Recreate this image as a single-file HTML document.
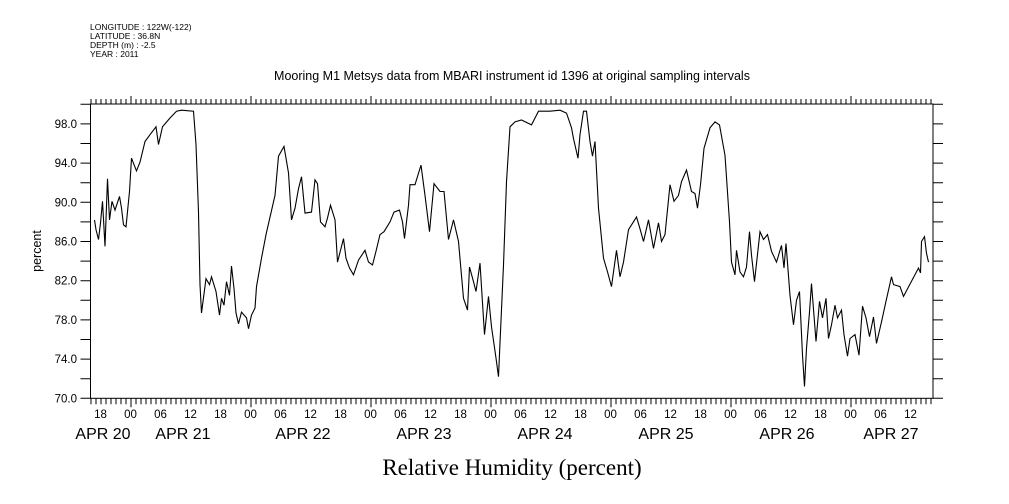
<!DOCTYPE html>
<html><head><meta charset="utf-8"><style>
body{margin:0;background:#fff;}
svg{display:block;font-family:"Liberation Sans",sans-serif;}
</style></head><body>
<svg id="chart" width="1009" height="504" viewBox="0 0 1009 504" xmlns="http://www.w3.org/2000/svg">
<g font-size="8.5" fill="#000">
<text x="90" y="30">LONGITUDE : 122W(-122)</text>
<text x="90" y="39">LATITUDE : 36.8N</text>
<text x="90" y="48">DEPTH (m) : -2.5</text>
<text x="90" y="57">YEAR : 2011</text>
</g>
<text x="512" y="80" font-size="12.5" text-anchor="middle">Mooring M1 Metsys data from MBARI instrument id 1396 at original sampling intervals</text>
<text transform="translate(41,251) rotate(-90)" font-size="12.5" text-anchor="middle">percent</text>
<text x="512" y="475" font-family="Liberation Serif, serif" font-size="23" text-anchor="middle">Relative Humidity (percent)</text>
<rect x="90.5" y="104" width="842.5" height="294.3" fill="none" stroke="#000" stroke-width="1"/>
<g id="ticks"></g>
<path id="series" fill="none" stroke="#000" stroke-width="1.1"/>
</svg>
<script>
const hours=[16.8,17.1,17.6,18.0,18.4,18.9,19.4,19.8,20.3,20.9,21.8,22.2,22.6,23.1,23.8,24.2,25.2,25.9,26.9,27.9,29.1,29.6,30.4,31.9,33.2,34.2,36.6,37.1,37.6,37.9,38.2,39.1,39.8,40.2,41.1,41.8,42.2,42.7,43.2,43.8,44.2,44.7,45.1,45.6,46.2,47.2,47.6,48.2,48.9,49.2,50.2,51.1,52.9,53.6,54.7,55.6,56.2,56.9,57.6,58.2,58.9,60.2,60.9,61.4,62.0,62.9,63.4,64.0,64.9,65.4,66.6,67.1,67.8,68.6,69.6,70.9,71.6,72.4,73.1,73.9,
74.7,75.9,76.7,77.8,78.4,78.8,79.6,79.9,80.9,82.1,82.9,83.8,84.7,85.9,86.7,87.6,88.6,89.6,90.6,91.4,91.8,92.6,93.1,93.9,94.8,95.6,96.2,97.1,97.6,98.0,98.6,99.2,99.9,100.9,102.2,104.2,105.6,107.9,109.9,111.2,112.2,112.6,113.5,113.9,114.6,115.2,115.9,116.4,116.9,117.6,118.6,119.4,120.2,121.2,121.9,122.6,123.6,125.2,125.9,126.6,127.6,128.6,129.6,130.2,130.9,131.9,
132.7,133.6,134.2,135.2,136.2,136.9,137.4,138.0,138.7,139.9,140.9,141.8,142.9,143.8,144.2,144.9,145.2,145.9,146.6,147.2,147.8,148.2,148.8,149.9,150.6,151.4,152.2,153.2,154.2,154.7,155.1,155.9,156.6,157.2,157.8,158.4,158.8,159.2,159.8,160.2,161.1,161.8,162.4,163.1,163.6,164.2,164.9,165.4,166.2,166.7,167.4,167.9,168.9,169.7,170.4,171.1,171.8,172.6,173.2,174.2,175.1,176.2,176.6,177.9,178.6,181.6,182.0,182.2,182.8,183.2,183.6];
const humidity=[88.2,87.2,86.2,87.9,90.1,85.5,92.4,88.2,90.1,89.2,90.6,89.4,87.7,87.5,91.1,94.5,93.2,94.1,96.2,96.9,97.7,95.9,97.7,98.6,99.3,99.4,99.3,95.9,89.0,81.6,78.7,82.2,81.6,82.4,80.9,78.5,80.2,79.5,81.9,80.5,83.5,81.2,78.7,77.6,78.8,78.2,77.1,78.5,79.2,81.4,84.3,86.7,90.7,94.7,95.7,93.0,88.2,89.4,91.4,92.6,88.9,89.0,92.3,91.9,88.0,87.5,88.4,89.7,88.2,83.9,86.3,84.3,83.3,82.6,84.1,85.1,83.9,83.6,85.0,86.7,
87.0,88.0,89.0,89.2,88.0,86.3,89.7,91.8,91.8,93.8,90.7,87.0,91.9,91.1,91.1,86.2,88.2,86.0,80.2,79.0,83.4,81.9,80.9,83.8,76.5,80.4,77.3,74.1,72.2,76.8,83.6,92.1,97.7,98.2,98.4,97.9,99.3,99.3,99.4,99.1,97.6,96.5,94.5,96.9,99.3,99.3,96.2,94.7,96.2,89.4,84.3,82.9,81.4,85.1,82.4,83.9,87.2,88.5,87.3,86.0,88.2,85.3,87.9,86.0,86.7,91.8,
90.1,90.7,92.1,93.3,91.1,90.9,89.4,91.8,95.5,97.6,98.2,97.9,94.8,88.0,83.9,82.6,85.1,82.9,82.4,83.4,87.0,84.6,81.9,87.0,86.2,86.7,85.0,83.9,85.6,83.3,85.8,80.5,77.5,80.0,80.9,74.4,71.2,75.1,78.8,81.7,75.8,79.9,78.2,80.2,76.1,77.5,79.5,78.2,79.0,76.5,74.3,76.1,76.5,74.4,79.4,78.2,76.3,78.3,75.6,77.8,79.9,82.4,81.6,81.4,80.4,83.3,82.8,86.0,86.5,84.8,83.9];
const yTickValues=[70,72,74,76,78,80,82,84,86,88,90,92,94,96,98,100];
const yLabelValues=[70,74,78,82,86,90,94,98];
const hourLabelTimes=[18,24,30,36,42,48,54,60,66,72,78,84,90,96,102,108,114,120,126,132,138,144,150,156,162,168,174,180];
const hourLabels=["18","00","06","12","18","00","06","12","18","00","06","12","18","00","06","12","18","00","06","12","18","00","06","12","18","00","06","12"];
const dateLabels=["APR 20","APR 21","APR 22","APR 23","APR 24","APR 25","APR 26","APR 27"];
const dateLabelCenters=[103,183,303,424,545,666,787,891];

const X0=90.5,X1=933,Y0=398.3;
function xs(h){return 130.5+(h-24)*5;}
function ys(v){return Y0-(v-70)*9.8;}
const NS="http://www.w3.org/2000/svg";
const svg=document.getElementById('chart');
const tg=document.getElementById('ticks');
function el(tag,attrs,parent){const e=document.createElementNS(NS,tag);for(const k in attrs)e.setAttribute(k,attrs[k]);(parent||tg).appendChild(e);return e;}
let d='';
const hStart=Math.ceil((X0-130.5)/5+24),hEnd=Math.floor((X1-130.5)/5+24);
for(let h=hStart;h<=hEnd;h++){
  const x=xs(h)+0.5,maj=(h%24===0);
  d+=`M${x} 104V${maj?96:99}M${x} ${Y0}V${Y0+(maj?9:6)}`;
}
yTickValues.forEach(v=>{const y=ys(v);if(v<=100){d+=`M${X0-10} ${y}H${X0}M${X1} ${y}H${X1+10}`;}});
const tp=el('path',{d:d,stroke:'#000','stroke-width':1,fill:'none'});


yLabelValues.forEach(v=>{
  const t=el('text',{x:77,y:ys(v)+4,'font-size':11.5,'text-anchor':'end'});
  t.textContent=v.toFixed(1);
  
  
});
hourLabelTimes.forEach((h,i)=>{
  const t=el('text',{x:xs(h),y:418,'font-size':11.5,'text-anchor':'middle'});
  t.textContent=hourLabels[i];
  
  
});
dateLabels.forEach((s,i)=>{
  const t=el('text',{x:dateLabelCenters[i],y:439,'font-size':16,'text-anchor':'middle'});
  t.textContent=s;
  
  
});
let p='';
hours.forEach((h,i)=>{p+=(i?'L':'M')+xs(h).toFixed(1)+' '+ys(humidity[i]).toFixed(1);});
document.getElementById('series').setAttribute('d',p);
</script>
</body></html>
